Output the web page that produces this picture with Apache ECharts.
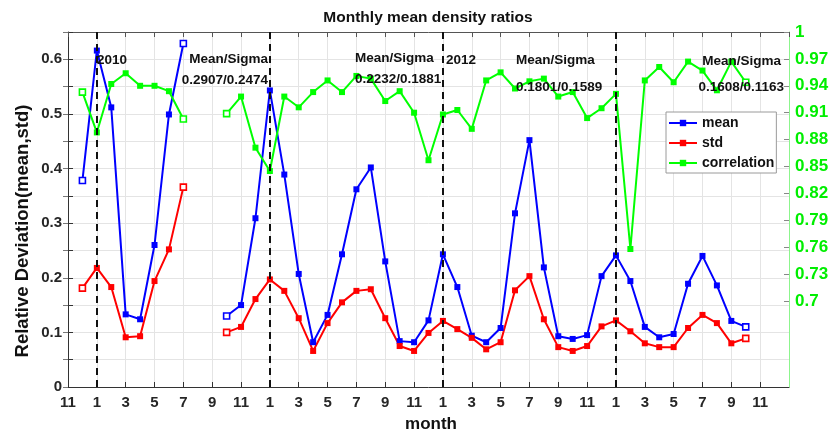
<!DOCTYPE html>
<html>
<head>
<meta charset="utf-8">
<script src="https://cdn.jsdelivr.net/npm/echarts@6/dist/echarts.min.js"></script>
<style>
  html, body { margin: 0; padding: 0; background: #fff; }
  #chart { width: 832px; height: 433px; }
</style>
</head>
<body>
<div id="chart"></div>
<script>
// Month of each index on the time axis (Nov 2009 .. Jan 2014)
const months = [11, 12,
  1, 2, 3, 4, 5, 6, 7, 8, 9, 10, 11, 12,
  1, 2, 3, 4, 5, 6, 7, 8, 9, 10, 11, 12,
  1, 2, 3, 4, 5, 6, 7, 8, 9, 10, 11, 12,
  1, 2, 3, 4, 5, 6, 7, 8, 9, 10, 11, 12,
  1];

// Indices where a new year starts (January)
const yearStarts = [2, 14, 26, 38];

// Relative deviation of the mean density ratio
const meanValues = [null, 0.378, 0.616, 0.512, 0.133, 0.124, 0.260, 0.499, 0.629, null, null,
  0.130, 0.150, 0.309, 0.543, 0.389, 0.207, 0.082, 0.132, 0.243, 0.362, 0.402, 0.230,
  0.084, 0.082, 0.122, 0.243, 0.183, 0.094, 0.082, 0.108, 0.318, 0.452, 0.219, 0.093,
  0.088, 0.095, 0.203, 0.241, 0.194, 0.110, 0.091, 0.097, 0.189, 0.240, 0.186, 0.121, 0.110];

// Relative deviation of the standard deviation
const stdValues = [null, 0.181, 0.218, 0.183, 0.091, 0.093, 0.194, 0.252, 0.366, null, null,
  0.100, 0.110, 0.161, 0.197, 0.176, 0.126, 0.066, 0.117, 0.155, 0.176, 0.179, 0.126,
  0.075, 0.066, 0.099, 0.121, 0.106, 0.090, 0.069, 0.082, 0.177, 0.203, 0.124, 0.073,
  0.066, 0.075, 0.111, 0.122, 0.102, 0.080, 0.073, 0.073, 0.108, 0.132, 0.117, 0.080, 0.089];

// Correlation (right axis)
const corrValues = [null, 0.933, 0.888, 0.942, 0.954, 0.940, 0.940, 0.934, 0.903, null, null,
  0.909, 0.928, 0.871, 0.845, 0.928, 0.916, 0.933, 0.946, 0.933, 0.951, 0.948, 0.923,
  0.934, 0.910, 0.857, 0.908, 0.913, 0.892, 0.946, 0.955, 0.937, 0.945, 0.948, 0.928,
  0.933, 0.904, 0.915, 0.931, 0.758, 0.946, 0.961, 0.944, 0.967, 0.957, 0.935, 0.967, 0.944];

// Right axis tick labels
const corrTicks = [0.7, 0.73, 0.76, 0.79, 0.82, 0.85, 0.88, 0.91, 0.94, 0.97, 1];

// Text notes on the plot
const yearNotes = ['2010', '2012'];
const ratioNotes = ['0.2907/0.2474', '0.2232/0.1881', '0.1801/0.1589', '0.1608/0.1163'];

const FONT = '"Liberation Sans", Arial, Helvetica, sans-serif';

// Build line data; segment ends get a hollow marker
function buildData(values, color) {
  return values.map((v, i) => {
    if (v === null) return [i, '-'];
    const prev = i > 0 ? values[i - 1] : null;
    const next = i < values.length - 1 ? values[i + 1] : null;
    if (prev === null || next === null) {
      return { value: [i, v], itemStyle: { color: '#ffffff', borderColor: color, borderWidth: 1.6 } };
    }
    return [i, v];
  });
}

function lineSeries(name, values, color, yIndex) {
  return {
    name: name,
    type: 'line',
    yAxisIndex: yIndex,
    data: buildData(values, color),
    symbol: 'rect',
    symbolSize: 6,
    connectNulls: false,
    lineStyle: { color: color, width: 2 },
    itemStyle: { color: color },
    emphasis: { disabled: true },
    z: 3
  };
}

function note(text, x, y, align) {
  return {
    type: 'text', x: x, y: y, z: 20,
    style: {
      text: text, fill: '#111', font: 'bold 13.5px ' + FONT,
      align: align || 'left', verticalAlign: 'middle'
    }
  };
}

const chart = echarts.init(document.getElementById('chart'), null, { renderer: 'canvas' });

const corrSeries = lineSeries('correlation', corrValues, '#00ff00', 1);
corrSeries.markLine = {
  silent: true,
  symbol: 'none',
  label: { show: false },
  lineStyle: { color: '#111', type: [7, 5], width: 2 },
  data: yearStarts.map(x => ({ xAxis: x }))
};
corrSeries.z = 4;

const option = {
  animation: false,
  backgroundColor: '#ffffff',
  grid: { left: 68, right: 43, top: 32, bottom: 46, containLabel: false },
  legend: {
    orient: 'vertical',
    left: 666, top: 112,
    itemWidth: 28, itemHeight: 8, itemGap: 6,
    padding: [4, 2, 3, 2],
    backgroundColor: '#ffffff',
    borderColor: '#9a9a9a', borderWidth: 1,
    textStyle: { fontFamily: FONT, fontWeight: 'bold', fontSize: 14, color: '#111' },
    data: ['mean', 'std', 'correlation']
  },
  xAxis: [{
    type: 'value', min: 0, max: 50, interval: 2,
    axisLine: { show: true, lineStyle: { color: '#333', width: 1 } },
    axisTick: { show: true, inside: true, length: 5, lineStyle: { color: '#333' } },
    axisLabel: {
      margin: 8, fontFamily: FONT, fontWeight: 'bold', fontSize: 15, color: '#262626',
      showMaxLabel: false,
      formatter: v => (v < 50 ? String(months[v]) : '')
    },
    splitLine: { show: true, lineStyle: { color: '#e4e4e4', width: 1 } }
  }, {
    type: 'value', min: 0, max: 50, interval: 2, position: 'top',
    axisLine: { show: true, onZero: false, lineStyle: { color: '#555', width: 1 } },
    axisTick: { show: true, inside: true, length: 5, lineStyle: { color: '#555' } },
    axisLabel: { show: false },
    splitLine: { show: false }
  }],
  yAxis: [{
    type: 'value', min: 0, max: 0.65, interval: 0.05, position: 'left',
    axisLine: { show: true, lineStyle: { color: '#333', width: 1 } },
    axisTick: { show: true, inside: true, length: 5, lineStyle: { color: '#333' } },
    axisLabel: {
      margin: 6, fontFamily: FONT, fontWeight: 'bold', fontSize: 15, color: '#262626',
      formatter: v => {
        const r = Math.round(v * 100);
        return r % 10 === 0 ? String(r / 100) : '';
      }
    },
    splitLine: { show: true, lineStyle: { color: '#e4e4e4', width: 1 } }
  }, {
    type: 'value', min: 0.6041, max: 1, position: 'right',
    axisLine: { show: true, onZero: false, lineStyle: { color: '#8cf58c', width: 1 } },
    axisTick: { show: true, inside: true, length: 5, customValues: corrTicks, lineStyle: { color: '#888' } },
    axisLabel: {
      margin: 6, fontFamily: FONT, fontWeight: 'bold', fontSize: 17, color: '#00ee00',
      customValues: corrTicks,
      formatter: v => String(parseFloat(Number(v).toFixed(2)))
    },
    splitLine: { show: false }
  }, {
    // mirrored left-axis ticks along the right border
    type: 'value', min: 0, max: 0.65, interval: 0.05, position: 'right',
    axisLine: { show: false },
    axisTick: { show: true, inside: true, length: 5, lineStyle: { color: '#777' } },
    axisLabel: { show: false },
    splitLine: { show: false }
  }],
  series: [
    lineSeries('mean', meanValues, '#0000ff', 0),
    lineSeries('std', stdValues, '#ff0000', 0),
    corrSeries
  ],
  graphic: [
    {
      type: 'text', x: 428, y: 18, z: 20,
      style: { text: 'Monthly mean density ratios', fill: '#111', font: 'bold 15.5px ' + FONT, align: 'center', verticalAlign: 'middle' }
    },
    {
      type: 'text', x: 431, y: 424, z: 20,
      style: { text: 'month', fill: '#111', font: 'bold 17px ' + FONT, align: 'center', verticalAlign: 'middle' }
    },
    {
      type: 'text', x: 23, y: 231, rotation: Math.PI / 2, z: 20,
      style: { text: 'Relative Deviation(mean,std)', fill: '#111', font: 'bold 18.5px ' + FONT, align: 'center', verticalAlign: 'middle' }
    },
    note(yearNotes[0], 97, 60),
    note(yearNotes[1], 446, 60),
    note('Mean/Sigma', 268, 59, 'right'),
    note(ratioNotes[0], 268, 80, 'right'),
    note('Mean/Sigma', 355, 58),
    note(ratioNotes[1], 355, 79),
    note('Mean/Sigma', 516, 60),
    note(ratioNotes[2], 516, 87),
    note('Mean/Sigma', 781, 61, 'right'),
    note(ratioNotes[3], 784, 87, 'right')
  ]
};

chart.setOption(option);
</script>
</body>
</html>
